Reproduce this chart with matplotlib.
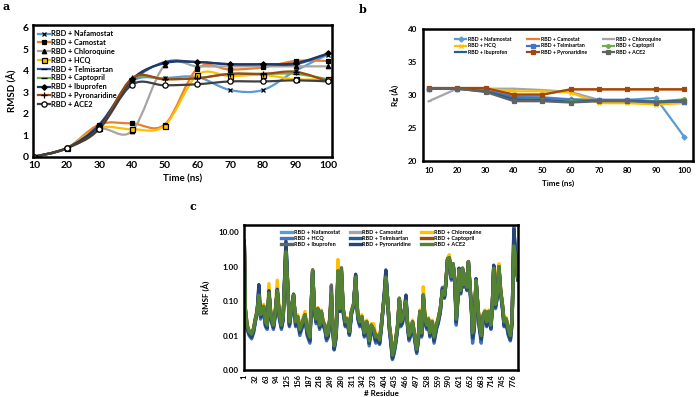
import numpy as np
import matplotlib
matplotlib.use("Agg")
from matplotlib import pyplot as plt
from matplotlib.path import Path
from matplotlib.patches import PathPatch
from matplotlib.lines import Line2D

plt.rcParams['font.family'] = ['Lato', 'DejaVu Sans']
plt.rcParams['font.weight'] = 'bold'

names = ['RBD + Nafamostat', 'RBD + Camostat', 'RBD + Chloroquine', 'RBD + HCQ',
         'RBD + Telmisartan', 'RBD + Captopril', 'RBD + Ibuprofen',
         'RBD + Pyronaridine', 'RBD + ACE2']

# ---- panel a : RMSD
time_ns = [10, 20, 30, 40, 50, 60, 70, 80, 90, 100]
rmsd_nafamostat = [0, 0.4, 1.5, 3.5, 3.65, 3.7, 3.1, 3.1, 4.0, 4.75]
rmsd_camostat = [0, 0.4, 1.5, 1.55, 1.5, 4.1, 4.05, 4.15, 4.45, 4.45]
rmsd_chloroquine = [0, 0.4, 1.3, 1.2, 4.25, 4.2, 4.2, 4.2, 4.2, 4.2]
rmsd_hcq = [0, 0.4, 1.35, 1.28, 1.45, 3.8, 3.75, 3.8, 3.6, 3.6]
rmsd_telmisartan = [0, 0.4, 1.5, 3.5, 4.4, 4.4, 4.3, 4.3, 4.3, 4.8]
rmsd_captopril = [0, 0.4, 1.35, 3.6, 3.6, 3.65, 3.85, 3.85, 3.85, 3.6]
rmsd_ibuprofen = [0, 0.4, 1.45, 3.6, 4.35, 4.4, 4.3, 4.3, 4.35, 4.8]
rmsd_pyronaridine = [0, 0.4, 1.3, 3.65, 3.6, 3.65, 3.85, 3.85, 3.95, 3.5]
rmsd_ace2 = [0, 0.4, 1.3, 3.35, 3.32, 3.37, 3.5, 3.5, 3.55, 3.5]

# ---- panel b : Rg
rg_nafamostat = [31, 31, 30.8, 29.8, 29.7, 29.4, 29.3, 29.3, 29.6, 23.7]
rg_camostat = [31.1, 31.1, 31.1, 30.1, 30.1, 30.9, 30.9, 30.9, 30.9, 30.9]
rg_chloroquine = [29.1, 31, 31, 31, 30.8, 30.5, 29.3, 29.2, 29.1, 29.2]
rg_hcq = [31, 31, 31, 30.6, 30.6, 30.4, 28.8, 28.8, 28.6, 28.8]
rg_telmisartan = [31, 31, 30.7, 29.7, 29.6, 29.3, 29.3, 29.3, 29.0, 29.0]
rg_captopril = [31, 31, 30.6, 29.3, 29.3, 29.1, 29.2, 29.2, 29.0, 29.4]
rg_ibuprofen = [31, 31, 30.6, 29.4, 29.3, 29.0, 29.2, 29.2, 29.0, 29.2]
rg_pyronaridine = [31.1, 31.1, 31.1, 30.1, 30.1, 30.9, 30.9, 30.9, 30.9, 30.9]
rg_ace2 = [31, 31, 30.5, 29.1, 29.1, 28.9, 29.1, 29.1, 28.9, 29.1]

# ---- panel c : RMSF per residue (read at peaks / troughs)
residue = [1, 4, 9, 15, 22, 28, 33, 38, 43, 48,
           53, 57, 62, 67, 72, 78, 85, 90, 96, 102,
           108, 113, 121, 126, 131, 137, 143, 149, 155, 161,
           169, 176, 182, 190, 198, 203, 208, 213, 218, 223,
           228, 233, 238, 243, 248, 252, 256, 260, 266, 271,
           276, 281, 286, 292, 298, 304, 310, 316, 322, 328,
           334, 340, 347, 354, 361, 367, 374, 380, 386, 391,
           396, 400, 405, 409, 414, 419, 424, 428, 433, 438,
           443, 448, 452, 457, 462, 467, 472, 476, 481, 486,
           491, 498, 503, 507, 512, 517, 522, 527, 532, 536,
           543, 548, 555, 560, 566, 572, 578, 582, 587, 592,
           598, 603, 608, 612, 617, 620, 625, 630, 634, 638,
           643, 647, 652, 656, 659, 664, 669, 675, 679, 684,
           690, 695, 700, 706, 712, 716, 720, 725, 730, 735,
           740, 745, 750, 756, 762, 768, 773, 778, 783, 789]

rmsf_ace2 = [5.0, 0.06, 0.02, 0.013, 0.011, 0.016, 0.03, 0.05, 0.15, 0.04,
             0.05, 0.07, 0.025, 0.02, 0.17, 0.035, 0.02, 0.045, 0.2, 0.04,
             0.02, 0.035, 2.7, 0.3, 0.025, 0.06, 0.15, 0.025, 0.035, 0.015,
             0.025, 0.04, 0.015, 0.009, 0.8, 0.06, 0.03, 0.06, 0.02, 0.05,
             0.025, 0.02, 0.01, 0.012, 0.035, 0.17, 0.02, 0.005, 0.012, 0.75,
             0.06, 0.8, 0.06, 0.025, 0.03, 0.013, 0.05, 0.08, 0.5, 0.04,
             0.025, 0.035, 0.012, 0.025, 0.007, 0.02, 0.015, 0.009, 0.01, 0.0075,
             0.02, 0.05, 0.15, 0.5, 0.12, 0.02, 0.008, 0.0027, 0.004, 0.008,
             0.02, 0.12, 0.025, 0.03, 0.05, 0.1, 0.02, 0.01, 0.013, 0.025,
             0.012, 0.004, 0.01, 0.05, 0.012, 0.15, 0.03, 0.02, 0.03, 0.012,
             0.025, 0.009, 0.02, 0.03, 0.06, 0.2, 0.15, 0.35, 1.7, 1.8,
             0.5, 1.2, 0.4, 0.03, 0.15, 0.8, 0.2, 0.9, 0.3, 0.6,
             0.25, 1.4, 0.25, 0.06, 0.012, 0.02, 0.4, 0.06, 0.02, 0.01,
             0.04, 0.05, 0.025, 0.05, 0.02, 0.08, 0.9, 0.08, 0.15, 1.0,
             0.2, 0.08, 0.025, 0.03, 0.015, 0.01, 0.03, 4.0, 2.0, 0.5]

rmsf_pyronaridine = [5.5, 0.05, 0.017, 0.011, 0.009, 0.014, 0.028, 0.05, 0.3, 0.035,
                     0.045, 0.06, 0.02, 0.017, 0.2, 0.03, 0.017, 0.04, 0.22, 0.035,
                     0.017, 0.03, 5.5, 0.35, 0.02, 0.055, 0.16, 0.02, 0.03, 0.012,
                     0.02, 0.035, 0.012, 0.007, 0.75, 0.055, 0.025, 0.055, 0.017, 0.045,
                     0.02, 0.017, 0.008, 0.01, 0.03, 0.15, 0.017, 0.004, 0.01, 0.6,
                     0.05, 0.6, 0.05, 0.02, 0.025, 0.011, 0.045, 0.075, 0.6, 0.035,
                     0.02, 0.03, 0.01, 0.02, 0.006, 0.017, 0.012, 0.007, 0.008, 0.006,
                     0.017, 0.05, 0.2, 0.8, 0.12, 0.017, 0.006, 0.0022, 0.0035, 0.007,
                     0.017, 0.11, 0.02, 0.025, 0.05, 0.15, 0.017, 0.008, 0.011, 0.022,
                     0.01, 0.0033, 0.008, 0.045, 0.01, 0.13, 0.025, 0.017, 0.025, 0.01,
                     0.02, 0.007, 0.017, 0.025, 0.05, 0.22, 0.13, 0.3, 1.6, 1.7,
                     0.45, 1.1, 0.35, 0.025, 0.14, 0.9, 0.18, 0.85, 0.28, 0.55,
                     0.22, 1.3, 0.22, 0.05, 0.009, 0.017, 0.45, 0.05, 0.017, 0.008,
                     0.035, 0.045, 0.02, 0.045, 0.017, 0.075, 1.1, 0.07, 0.13, 0.9,
                     0.18, 0.07, 0.02, 0.025, 0.012, 0.008, 0.025, 12.0, 2.5, 0.45]

rmsf_hcq = [5.0, 0.045, 0.015, 0.01, 0.008, 0.012, 0.025, 0.045, 0.2, 0.03,
            0.04, 0.06, 0.018, 0.015, 0.18, 0.028, 0.015, 0.035, 0.2, 0.03,
            0.015, 0.028, 5.0, 0.3, 0.018, 0.05, 0.14, 0.018, 0.028, 0.01,
            0.018, 0.032, 0.01, 0.006, 0.7, 0.05, 0.022, 0.05, 0.015, 0.04,
            0.018, 0.015, 0.007, 0.009, 0.028, 0.14, 0.015, 0.0038, 0.009, 0.65,
            0.05, 0.7, 0.045, 0.018, 0.022, 0.01, 0.04, 0.07, 0.55, 0.03,
            0.018, 0.028, 0.009, 0.018, 0.005, 0.015, 0.011, 0.006, 0.007, 0.0055,
            0.015, 0.045, 0.14, 0.6, 0.1, 0.015, 0.005, 0.002, 0.003, 0.006,
            0.015, 0.1, 0.018, 0.022, 0.045, 0.12, 0.015, 0.007, 0.01, 0.02,
            0.009, 0.003, 0.007, 0.04, 0.009, 0.12, 0.022, 0.015, 0.022, 0.009,
            0.018, 0.006, 0.015, 0.022, 0.045, 0.25, 0.12, 0.3, 1.5, 1.6,
            0.4, 1.0, 0.3, 0.02, 0.12, 0.85, 0.16, 0.8, 0.25, 0.5,
            0.2, 1.2, 0.2, 0.045, 0.006, 0.015, 0.35, 0.045, 0.015, 0.006,
            0.03, 0.04, 0.018, 0.04, 0.015, 0.07, 1.0, 0.06, 0.12, 0.85,
            0.16, 0.06, 0.018, 0.022, 0.01, 0.007, 0.022, 14.0, 2.0, 0.4]

rmsf_chloroquine = [4.5, 0.065, 0.022, 0.014, 0.012, 0.017, 0.035, 0.06, 0.12, 0.045,
                    0.055, 0.08, 0.027, 0.022, 0.32, 0.04, 0.022, 0.05, 0.4, 0.05,
                    0.022, 0.04, 2.3, 0.25, 0.028, 0.065, 0.13, 0.028, 0.04, 0.018,
                    0.03, 0.05, 0.018, 0.01, 0.7, 0.065, 0.033, 0.065, 0.022, 0.055,
                    0.028, 0.022, 0.011, 0.013, 0.04, 0.15, 0.022, 0.006, 0.013, 1.6,
                    0.07, 0.7, 0.065, 0.028, 0.033, 0.014, 0.055, 0.085, 0.4, 0.045,
                    0.028, 0.04, 0.013, 0.028, 0.008, 0.022, 0.022, 0.01, 0.011, 0.008,
                    0.022, 0.055, 0.13, 0.4, 0.12, 0.022, 0.009, 0.003, 0.0045, 0.009,
                    0.022, 0.12, 0.028, 0.035, 0.055, 0.09, 0.022, 0.011, 0.014, 0.028,
                    0.013, 0.0045, 0.011, 0.055, 0.013, 0.26, 0.035, 0.022, 0.033, 0.013,
                    0.028, 0.01, 0.022, 0.035, 0.065, 0.18, 0.15, 0.35, 1.8, 2.2,
                    0.55, 1.2, 0.45, 0.033, 0.15, 0.75, 0.22, 0.9, 0.3, 0.6,
                    0.25, 1.3, 0.25, 0.065, 0.013, 0.022, 0.35, 0.065, 0.022, 0.011,
                    0.045, 0.055, 0.028, 0.055, 0.022, 0.09, 0.8, 0.09, 0.5, 1.2,
                    0.22, 0.09, 0.028, 0.033, 0.017, 0.011, 0.033, 3.5, 1.8, 0.5]

rmsf_camostat = [4.8, 0.06, 0.02, 0.013, 0.011, 0.016, 0.03, 0.05, 0.14, 0.04,
                 0.05, 0.07, 0.025, 0.02, 0.16, 0.035, 0.02, 0.045, 0.19, 0.04,
                 0.02, 0.035, 2.6, 0.3, 0.025, 0.06, 0.14, 0.025, 0.035, 0.015,
                 0.025, 0.04, 0.015, 0.009, 0.8, 0.06, 0.03, 0.06, 0.02, 0.05,
                 0.025, 0.02, 0.01, 0.012, 0.035, 0.3, 0.02, 0.005, 0.012, 0.7,
                 0.06, 0.95, 0.06, 0.025, 0.03, 0.013, 0.05, 0.08, 0.45, 0.04,
                 0.025, 0.035, 0.012, 0.025, 0.007, 0.02, 0.015, 0.009, 0.01, 0.0075,
                 0.02, 0.05, 0.15, 0.45, 0.12, 0.02, 0.008, 0.0027, 0.004, 0.008,
                 0.02, 0.12, 0.025, 0.03, 0.05, 0.1, 0.02, 0.01, 0.013, 0.025,
                 0.012, 0.004, 0.01, 0.05, 0.012, 0.15, 0.03, 0.02, 0.03, 0.012,
                 0.025, 0.009, 0.02, 0.03, 0.06, 0.2, 0.15, 0.35, 1.6, 1.8,
                 0.5, 1.1, 0.4, 0.03, 0.15, 0.8, 0.2, 0.85, 0.3, 0.6,
                 0.25, 1.4, 0.25, 0.06, 0.012, 0.02, 0.4, 0.06, 0.02, 0.01,
                 0.04, 0.05, 0.025, 0.05, 0.02, 0.08, 0.85, 0.08, 0.2, 1.0,
                 0.2, 0.08, 0.025, 0.03, 0.015, 0.01, 0.03, 4.5, 2.0, 0.5]

rmsf_ibuprofen = [5.0, 0.06, 0.02, 0.013, 0.011, 0.016, 0.03, 0.05, 0.15, 0.04,
                  0.05, 0.07, 0.025, 0.02, 0.17, 0.035, 0.02, 0.045, 0.2, 0.04,
                  0.02, 0.035, 2.5, 0.3, 0.025, 0.06, 0.15, 0.025, 0.035, 0.015,
                  0.025, 0.04, 0.015, 0.009, 0.75, 0.06, 0.03, 0.06, 0.02, 0.05,
                  0.025, 0.02, 0.01, 0.012, 0.035, 0.28, 0.02, 0.005, 0.012, 0.7,
                  0.06, 0.9, 0.06, 0.025, 0.03, 0.013, 0.05, 0.08, 0.45, 0.04,
                  0.025, 0.035, 0.012, 0.025, 0.007, 0.02, 0.015, 0.009, 0.01, 0.0075,
                  0.02, 0.05, 0.15, 0.5, 0.12, 0.02, 0.008, 0.0027, 0.004, 0.008,
                  0.02, 0.12, 0.025, 0.03, 0.05, 0.1, 0.02, 0.01, 0.013, 0.025,
                  0.012, 0.004, 0.01, 0.05, 0.012, 0.15, 0.03, 0.02, 0.03, 0.012,
                  0.025, 0.009, 0.02, 0.03, 0.06, 0.2, 0.15, 0.35, 1.7, 1.8,
                  0.5, 1.2, 0.4, 0.03, 0.15, 0.8, 0.2, 0.9, 0.3, 0.6,
                  0.25, 1.4, 0.25, 0.06, 0.012, 0.02, 0.4, 0.06, 0.02, 0.01,
                  0.04, 0.05, 0.025, 0.05, 0.02, 0.08, 0.9, 0.08, 0.3, 1.0,
                  0.2, 0.08, 0.025, 0.03, 0.015, 0.01, 0.03, 4.0, 2.0, 0.5]

rmsf_nafamostat = [5.2, 0.055, 0.018, 0.012, 0.01, 0.015, 0.028, 0.05, 0.18, 0.038,
                   0.048, 0.065, 0.022, 0.018, 0.17, 0.032, 0.018, 0.042, 0.2, 0.038,
                   0.018, 0.032, 4.0, 0.3, 0.022, 0.058, 0.15, 0.022, 0.032, 0.013,
                   0.022, 0.038, 0.013, 0.008, 0.75, 0.058, 0.028, 0.058, 0.018, 0.048,
                   0.022, 0.018, 0.009, 0.011, 0.032, 0.16, 0.018, 0.0045, 0.011, 0.7,
                   0.055, 0.75, 0.055, 0.022, 0.028, 0.012, 0.048, 0.078, 0.55, 0.038,
                   0.022, 0.032, 0.011, 0.022, 0.0065, 0.018, 0.013, 0.008, 0.009, 0.0068,
                   0.018, 0.048, 0.16, 0.6, 0.12, 0.018, 0.007, 0.0024, 0.0037, 0.0075,
                   0.018, 0.11, 0.022, 0.028, 0.048, 0.12, 0.018, 0.009, 0.012, 0.023,
                   0.011, 0.0037, 0.009, 0.048, 0.011, 0.14, 0.028, 0.018, 0.028, 0.011,
                   0.022, 0.008, 0.018, 0.028, 0.055, 0.21, 0.14, 0.33, 1.6, 1.7,
                   0.48, 1.1, 0.38, 0.028, 0.14, 0.82, 0.19, 0.88, 0.29, 0.58,
                   0.23, 1.35, 0.23, 0.055, 0.01, 0.018, 0.4, 0.055, 0.018, 0.009,
                   0.038, 0.048, 0.022, 0.048, 0.018, 0.078, 0.95, 0.075, 0.14, 0.95,
                   0.19, 0.075, 0.022, 0.028, 0.013, 0.009, 0.028, 8.0, 2.2, 0.48]

rmsf_telmisartan = [5.3, 0.05, 0.017, 0.011, 0.009, 0.014, 0.027, 0.048, 0.25, 0.035,
                    0.045, 0.062, 0.02, 0.017, 0.19, 0.03, 0.017, 0.04, 0.21, 0.035,
                    0.017, 0.03, 4.5, 0.32, 0.02, 0.055, 0.15, 0.02, 0.03, 0.012,
                    0.02, 0.035, 0.012, 0.007, 0.72, 0.055, 0.025, 0.055, 0.017, 0.045,
                    0.02, 0.017, 0.008, 0.01, 0.03, 0.15, 0.017, 0.0042, 0.01, 0.62,
                    0.05, 0.65, 0.05, 0.02, 0.025, 0.011, 0.045, 0.075, 0.58, 0.035,
                    0.02, 0.03, 0.01, 0.02, 0.006, 0.017, 0.012, 0.007, 0.008, 0.006,
                    0.017, 0.048, 0.18, 0.7, 0.11, 0.017, 0.006, 0.0022, 0.0034, 0.007,
                    0.017, 0.105, 0.02, 0.025, 0.048, 0.14, 0.017, 0.008, 0.011, 0.022,
                    0.01, 0.0034, 0.008, 0.045, 0.01, 0.13, 0.025, 0.017, 0.025, 0.01,
                    0.02, 0.007, 0.017, 0.025, 0.05, 0.23, 0.13, 0.3, 1.55, 1.65,
                    0.44, 1.05, 0.34, 0.024, 0.13, 0.88, 0.17, 0.83, 0.27, 0.52,
                    0.21, 1.25, 0.21, 0.048, 0.008, 0.016, 0.42, 0.048, 0.016, 0.0075,
                    0.033, 0.043, 0.019, 0.043, 0.016, 0.072, 1.05, 0.065, 0.125, 0.88,
                    0.17, 0.065, 0.019, 0.024, 0.011, 0.0075, 0.024, 10.0, 2.3, 0.42]

rmsf_captopril = [5.0, 0.058, 0.019, 0.013, 0.011, 0.016, 0.03, 0.05, 0.15, 0.04,
                  0.05, 0.07, 0.025, 0.02, 0.17, 0.035, 0.02, 0.045, 0.2, 0.04,
                  0.02, 0.035, 2.8, 0.3, 0.025, 0.06, 0.15, 0.025, 0.035, 0.015,
                  0.025, 0.04, 0.015, 0.009, 0.8, 0.06, 0.03, 0.06, 0.02, 0.05,
                  0.025, 0.02, 0.01, 0.012, 0.035, 0.17, 0.02, 0.005, 0.012, 0.75,
                  0.06, 0.8, 0.06, 0.025, 0.03, 0.013, 0.05, 0.08, 0.5, 0.04,
                  0.025, 0.035, 0.012, 0.025, 0.007, 0.02, 0.015, 0.009, 0.01, 0.0075,
                  0.02, 0.05, 0.15, 0.5, 0.12, 0.02, 0.008, 0.0027, 0.004, 0.008,
                  0.02, 0.12, 0.025, 0.03, 0.05, 0.1, 0.02, 0.01, 0.013, 0.025,
                  0.012, 0.004, 0.01, 0.05, 0.012, 0.15, 0.03, 0.02, 0.03, 0.012,
                  0.025, 0.009, 0.02, 0.03, 0.06, 0.2, 0.15, 0.35, 1.7, 1.8,
                  0.5, 1.2, 0.4, 0.03, 0.15, 0.8, 0.2, 0.9, 0.3, 0.6,
                  0.25, 1.4, 0.25, 0.06, 0.012, 0.02, 0.4, 0.06, 0.02, 0.01,
                  0.04, 0.05, 0.025, 0.05, 0.02, 0.08, 0.9, 0.08, 0.15, 1.0,
                  0.2, 0.08, 0.025, 0.03, 0.015, 0.01, 0.03, 4.0, 2.0, 0.5]

residue_ticks = [1, 32, 63, 94, 125, 156, 187, 218, 249, 280, 311, 342, 373,
                 404, 435, 466, 497, 528, 559, 590, 621, 652, 683, 714, 745, 776]
rmsf_ticks = [0.001, 0.01, 0.1, 1, 10]
rmsf_tick_labels = ['0.00', '0.01', '0.10', '1.00', '10.00']


def smooth_path(x, y):
    # Excel style smoothed line: Catmull-Rom segments as cubic Bezier
    verts = [(x[0], y[0])]
    codes = [Path.MOVETO]
    n = len(x)
    for i in range(n - 1):
        xp, yp = (x[i - 1], y[i - 1]) if i > 0 else (x[i], y[i])
        xn, yn = (x[i + 2], y[i + 2]) if i + 2 < n else (x[i + 1], y[i + 1])
        verts.append((x[i] + (x[i + 1] - xp) / 6, y[i] + (y[i + 1] - yp) / 6))
        verts.append((x[i + 1] - (xn - x[i]) / 6, y[i + 1] - (yn - y[i]) / 6))
        verts.append((x[i + 1], y[i + 1]))
        codes += [Path.CURVE4] * 3
    return Path(verts, codes)


def frame(ax, lw=1.8):
    for s in ax.spines.values():
        s.set_linewidth(lw)
        s.set_color('black')


fig = plt.figure(figsize=(7, 3.97), dpi=100)

# ------------------------------------------------ a
ax = fig.add_axes([0.047, 0.605, 0.427, 0.332])
rmsd = [rmsd_nafamostat, rmsd_camostat, rmsd_chloroquine, rmsd_hcq, rmsd_telmisartan,
        rmsd_captopril, rmsd_ibuprofen, rmsd_pyronaridine, rmsd_ace2]
col_a = ['#5B9BD5', '#ED7D31', '#A5A5A5', '#FFC000', '#2F5597', '#70AD47',
         '#1F3864', '#9E480E', '#404040']
mk_a = [('x', 'black', 'black', 3), ('s', 'black', 'black', 2.8), ('^', 'black', 'black', 3.2),
        ('s', '#FFC000', 'black', 3.6), ('_', 'black', 'black', 5), ('_', 'black', 'black', 5),
        ('D', 'black', 'black', 2.8), ('+', 'black', 'black', 4), ('o', 'white', 'black', 3.8)]
handles = []
for vals, c, (m, fc, ec, ms), nm in zip(rmsd, col_a, mk_a, names):
    ax.add_patch(PathPatch(smooth_path(time_ns, vals), fill=False, ec=c, lw=1.6))
    ax.plot(time_ns, vals, ls='none', marker=m, mfc=fc, mec=ec, ms=ms, mew=0.9)
    handles.append(Line2D([], [], color=c, lw=1.6, marker=m, mfc=fc, mec=ec, ms=ms, mew=0.9, label=nm))
ax.set_xlim(9.7, 101.1)
ax.set_ylim(0, 6.12)
ax.set_xticks(time_ns)
ax.set_yticks(range(7))
ax.tick_params(length=0, labelsize=7.5, pad=3)
ax.set_xlabel('Time (ns)', fontsize=7, fontweight='bold', labelpad=3)
ax.set_ylabel('RMSD (Å)', fontsize=7, fontweight='bold', labelpad=4)
frame(ax)
ax.legend(handles=handles, loc='upper left', bbox_to_anchor=(0.0, 1.0), frameon=False,
          handlelength=1.6, handletextpad=0.2, labelspacing=0.25,
          borderaxespad=0.3, prop={'weight': 'bold', 'size': 5.3})
fig.text(0.003, 0.975, 'a', fontsize=8, fontweight='bold', family='DejaVu Serif')

# ------------------------------------------------ b
bx = fig.add_axes([0.604, 0.594, 0.386, 0.332])
rg = [rg_nafamostat, rg_camostat, rg_chloroquine, rg_hcq, rg_telmisartan,
      rg_captopril, rg_ibuprofen, rg_pyronaridine, rg_ace2]
col_b = ['#5B9BD5', '#ED7D31', '#A5A5A5', '#FFC000', '#4472C4', '#70AD47',
         '#255E91', '#9E480E', '#636363']
mk_b = ['D', None, '_', 'x', 's', 'o', None, 's', 's']
lines_b = {}
for vals, c, m, nm in zip(rg, col_b, mk_b, names):
    ln, = bx.plot(time_ns, vals, color=c, lw=1.6, marker=m, ms=2.6, mew=0.9, label=nm)
    lines_b[nm] = ln
bx.set_xlim(7.9, 103.1)
bx.set_ylim(20, 40)
bx.set_xticks(time_ns)
bx.set_yticks([20, 25, 30, 35, 40])
bx.tick_params(length=0, labelsize=5.8, pad=4)
bx.set_xlabel('Time (ns)', fontsize=5.8, fontweight='bold', labelpad=4)
bx.set_ylabel('Rg (Å)', fontsize=5.8, fontweight='bold', labelpad=6)
frame(bx)
order = [0, 3, 6, 1, 4, 7, 2, 5, 8]
bx.legend(handles=[lines_b[names[i]] for i in order], ncol=3, loc='upper center',
          bbox_to_anchor=(0.5, 0.98), frameon=False, handlelength=2.2,
          handletextpad=0.3, columnspacing=3.0, labelspacing=0.3,
          prop={'weight': 'bold', 'size': 3.8})
fig.text(0.512, 0.968, 'b', fontsize=8, fontweight='bold', family='DejaVu Serif')

# ------------------------------------------------ c
cx = fig.add_axes([0.349, 0.068, 0.391, 0.365])
rmsf = [rmsf_nafamostat, rmsf_camostat, rmsf_chloroquine, rmsf_hcq, rmsf_telmisartan,
        rmsf_captopril, rmsf_ibuprofen, rmsf_pyronaridine, rmsf_ace2]
col_c = ['#5B9BD5', '#A5A5A5', '#FFC000', '#4472C4', '#255E91', '#9E480E',
         '#636363', '#264478', '#548235']
lines_c = {}
for vals, c, nm in zip(rmsf, col_c, names):
    ln, = cx.plot(residue, vals, color=c, lw=2.4, label=nm, solid_joinstyle='round')
    lines_c[nm] = ln
cx.set_yscale('log')
cx.set_ylim(0.001, 16)
cx.set_xlim(1, 790)
cx.set_yticks(rmsf_ticks)
cx.set_yticklabels(rmsf_tick_labels)
cx.minorticks_off()
cx.set_xticks(residue_ticks)
cx.set_xticklabels([str(t) for t in residue_ticks], rotation=90)
cx.tick_params(axis='y', length=0, labelsize=5.8, pad=4)
cx.tick_params(axis='x', length=0, labelsize=5.3, pad=3)
cx.set_xlabel('# Residue', fontsize=5.8, fontweight='bold', labelpad=2)
cx.set_ylabel('RMSF (Å)', fontsize=5.8, fontweight='bold', labelpad=5)
frame(cx)
cx.legend(handles=[lines_c[names[i]] for i in order], ncol=3, loc='upper center',
          bbox_to_anchor=(0.5, 1.0), frameon=False, handlelength=2.0,
          handletextpad=0.3, columnspacing=1.8, labelspacing=0.2,
          prop={'weight': 'bold', 'size': 4.0})
fig.text(0.271, 0.47, 'c', fontsize=8, fontweight='bold', family='DejaVu Serif')

fig.savefig('out.png', dpi=100)
